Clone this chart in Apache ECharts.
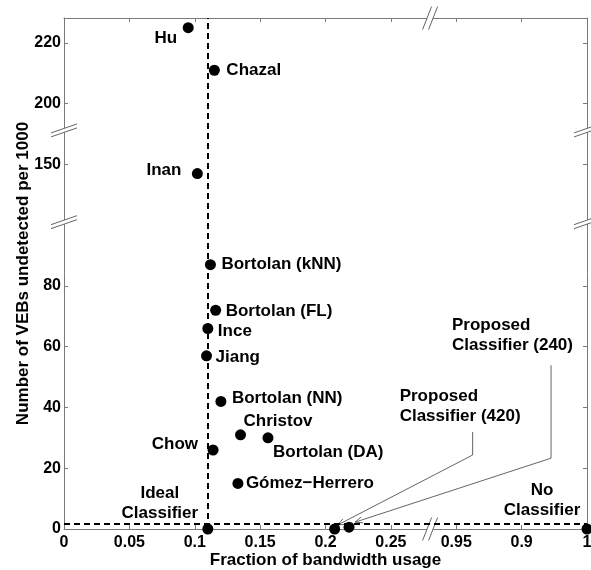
<!DOCTYPE html>
<html><head><meta charset="utf-8">
<script src="https://cdn.jsdelivr.net/npm/echarts@6/dist/echarts.min.js"></script>
<style>html,body{margin:0;padding:0;background:#fff}#c{width:591px;height:570px}</style>
</head><body><div id="c"></div>
<script>
// ---- data ----
const categories = ['Hu', 'Chazal', 'Inan', 'Bortolan (kNN)', 'Bortolan (FL)', 'Ince', 'Jiang',
  'Bortolan (NN)', 'Christov', 'Bortolan (DA)', 'Chow', 'Gómez\u2212Herrero',
  'Ideal\nClassifier', 'Proposed\nClassifier (420)', 'Proposed\nClassifier (240)', 'No\nClassifier'];
const fractionBW = [0.095, 0.115, 0.102, 0.112, 0.116, 0.110, 0.109, 0.120, 0.135, 0.156, 0.114, 0.133, 0.110, 0.207, 0.218, 1.0];
const vebsPer1000 = [225, 211, 147, 87, 72, 66, 57, 42, 31, 30, 26, 15, 0, 0, 0.6, 0];
const xTickLabels = ['0', '0.05', '0.1', '0.15', '0.2', '0.25', '0.95', '0.9', '1'];
const yTickLabels = ['0', '20', '40', '60', '80', '', '150', '200', '220'];
const idealFraction = 0.11;   // vertical dashed reference
const idealVebs = 1.8;        // horizontal dashed reference
const annotated = [13, 14];   // points with arrow annotations

// ---- broken-axis mapping (display coordinates) ----
function xDisp(v) { return v <= 0.3 ? v : 0.4 - (1 - v); }
function yDisp(v) { if (v <= 100) return v; if (v < 180) return 120 + (v - 150); return 140 + (v - 200); }

// ---- styling ----
const FONT = "'Liberation Sans', Arial, sans-serif";
const AX = '#7a7a7a';
const labelLayout = {
  0: ['right', -11, 11], 1: ['left', 12, 0], 2: ['right', -16, -3], 3: ['left', 11, 0],
  4: ['left', 10, 1], 5: ['left', 10, 3], 6: ['left', 9, 1], 7: ['left', 11, -3],
  8: ['left', 3, -14], 9: ['left', 5, 14], 10: ['right', -15, -6], 11: ['left', 8, 0],
  12: ['center', -48, -26], 13: ['left', 65, -123], 14: ['left', 103, -192], 15: ['center', -45, -29]
};
const annotGeom = {
  13: { top: [138, -97], bend: [138, -74], tip: [3, -4] },
  14: { top: [202, -162], bend: [202, -69], tip: [6, -5] }
};
const Y_MAX = 168.2;
const breakMarks = [[0.28, 0, 0], [0.28, Y_MAX, 0], [0, 101, 1], [0.4, 101, 1], [0, 131.2, 1], [0.4, 131.2, 1]];

const points = categories.map((name, i) => {
  const L = labelLayout[i];
  return {
    name: name,
    value: [xDisp(fractionBW[i]), yDisp(vebsPer1000[i])],
    label: {
      show: true, position: 'inside', align: L[0], verticalAlign: 'middle', offset: [L[1], L[2]],
      formatter: name, color: '#000', fontSize: 17, fontWeight: 'bold', fontFamily: FONT,
      lineHeight: 20, textBorderWidth: 0
    }
  };
});

const axisCommon = {
  type: 'value', splitLine: { show: false },
  axisLine: { show: true, onZero: false, lineStyle: { color: AX, width: 1 } },
  axisTick: { show: true, inside: true, length: 4, lineStyle: { color: AX } }
};

const chart = echarts.init(document.getElementById('c'), null, { renderer: 'canvas' });
chart.setOption({
  animation: false,
  backgroundColor: '#fff',
  grid: { left: 64, right: 4, top: 18, bottom: 41, containLabel: false, outerBoundsMode: 'none' },
  xAxis: [
    Object.assign({}, axisCommon, {
      position: 'bottom', min: 0, max: 0.4, interval: 0.05,
      axisLabel: { show: true, margin: 6, color: '#000', fontSize: 16, fontWeight: 'bold', fontFamily: FONT,
        showMinLabel: true, showMaxLabel: true, hideOverlap: false,
        formatter: v => xTickLabels[Math.round(v / 0.05)] },
      name: 'Fraction of bandwidth usage', nameLocation: 'middle', nameGap: 23, nameMoveOverlap: false,
      nameTextStyle: { color: '#000', fontSize: 17, fontWeight: 'bold', fontFamily: FONT }
    }),
    Object.assign({}, axisCommon, { position: 'top', min: 0, max: 0.4, interval: 0.05, axisLabel: { show: false } })
  ],
  yAxis: [
    Object.assign({}, axisCommon, {
      position: 'left', min: 0, max: Y_MAX, interval: 20,
      axisTick: { show: true, inside: true, length: 4, lineStyle: { color: AX }, customValues: [0, 20, 40, 60, 80, 120, 140, 160] },
      axisLabel: { show: true, margin: 3, color: '#000', fontSize: 16, fontWeight: 'bold', fontFamily: FONT,
        customValues: [0, 20, 40, 60, 80, 120, 140, 160],
        formatter: v => yTickLabels[Math.round(v / 20)] },
      name: 'Number of VEBs undetected per 1000', nameLocation: 'middle', nameGap: 32, nameMoveOverlap: false,
      nameTextStyle: { color: '#000', fontSize: 17, fontWeight: 'bold', fontFamily: FONT }
    }),
    Object.assign({}, axisCommon, {
      position: 'right', min: 0, max: Y_MAX, interval: 20,
      axisTick: { show: true, inside: true, length: 4, lineStyle: { color: AX }, customValues: [0, 20, 40, 60, 80, 120, 140, 160] },
      axisLabel: { show: false }
    })
  ],
  series: [
    {
      type: 'scatter', data: [], z: 1, silent: true,
      markLine: {
        silent: true, symbol: 'none', label: { show: false },
        lineStyle: { color: '#000', width: 2, type: [6, 4], opacity: 1 },
        data: [{ xAxis: idealFraction }, { yAxis: idealVebs }]
      }
    },
    {
      type: 'custom', z: 2, silent: true, clip: false,
      data: annotated.map(i => [xDisp(fractionBW[i]), yDisp(vebsPer1000[i]), i]),
      encode: { x: 0, y: 1 },
      renderItem: (params, api) => {
        const p = api.coord([api.value(0), api.value(1)]);
        const g = annotGeom[api.value(2)];
        const top = [p[0] + g.top[0], p[1] + g.top[1]];
        const bend = [p[0] + g.bend[0], p[1] + g.bend[1]];
        const tip = [p[0] + g.tip[0], p[1] + g.tip[1]];
        const dx = tip[0] - bend[0], dy = tip[1] - bend[1];
        const len = Math.hypot(dx, dy), ux = dx / len, uy = dy / len;
        const ang = 22 * Math.PI / 180, hl = 8;
        const h1 = [tip[0] - hl * (ux * Math.cos(ang) - uy * Math.sin(ang)), tip[1] - hl * (ux * Math.sin(ang) + uy * Math.cos(ang))];
        const h2 = [tip[0] - hl * (ux * Math.cos(-ang) - uy * Math.sin(-ang)), tip[1] - hl * (ux * Math.sin(-ang) + uy * Math.cos(-ang))];
        const st = { stroke: '#666', lineWidth: 1, fill: null };
        return { type: 'group', children: [
          { type: 'polyline', shape: { points: [top, bend, tip] }, style: st },
          { type: 'polyline', shape: { points: [h1, tip, h2] }, style: st }
        ] };
      }
    },
    {
      type: 'scatter', z: 3, symbol: 'circle', symbolSize: 11,
      itemStyle: { color: '#000', opacity: 1 },
      data: points
    },
    {
      type: 'custom', z: 4, silent: true, clip: false,
      data: breakMarks, encode: { x: 0, y: 1 },
      renderItem: (params, api) => {
        const c = api.coord([api.value(0), api.value(1)]);
        let A1, A2, B1, B2;
        if (api.value(2) === 0) {
          A1 = [c[0] - 3 - 4.5, c[1] + 11.5]; A2 = [c[0] - 3 + 4.5, c[1] - 11.5];
          B1 = [c[0] + 3 - 4.5, c[1] + 11.5]; B2 = [c[0] + 3 + 4.5, c[1] - 11.5];
        } else {
          A1 = [c[0] - 13, c[1] - 2 + 4.5]; A2 = [c[0] + 13, c[1] - 2 - 4.5];
          B1 = [c[0] - 13, c[1] + 2 + 4.5]; B2 = [c[0] + 13, c[1] + 2 - 4.5];
        }
        const st = { stroke: '#666', lineWidth: 1, fill: null };
        return { type: 'group', children: [
          { type: 'polygon', shape: { points: [A1, A2, B2, B1] }, style: { fill: '#fff', stroke: null } },
          { type: 'line', shape: { x1: A1[0], y1: A1[1], x2: A2[0], y2: A2[1] }, style: st },
          { type: 'line', shape: { x1: B1[0], y1: B1[1], x2: B2[0], y2: B2[1] }, style: st }
        ] };
      }
    }
  ]
});
</script></body></html>
